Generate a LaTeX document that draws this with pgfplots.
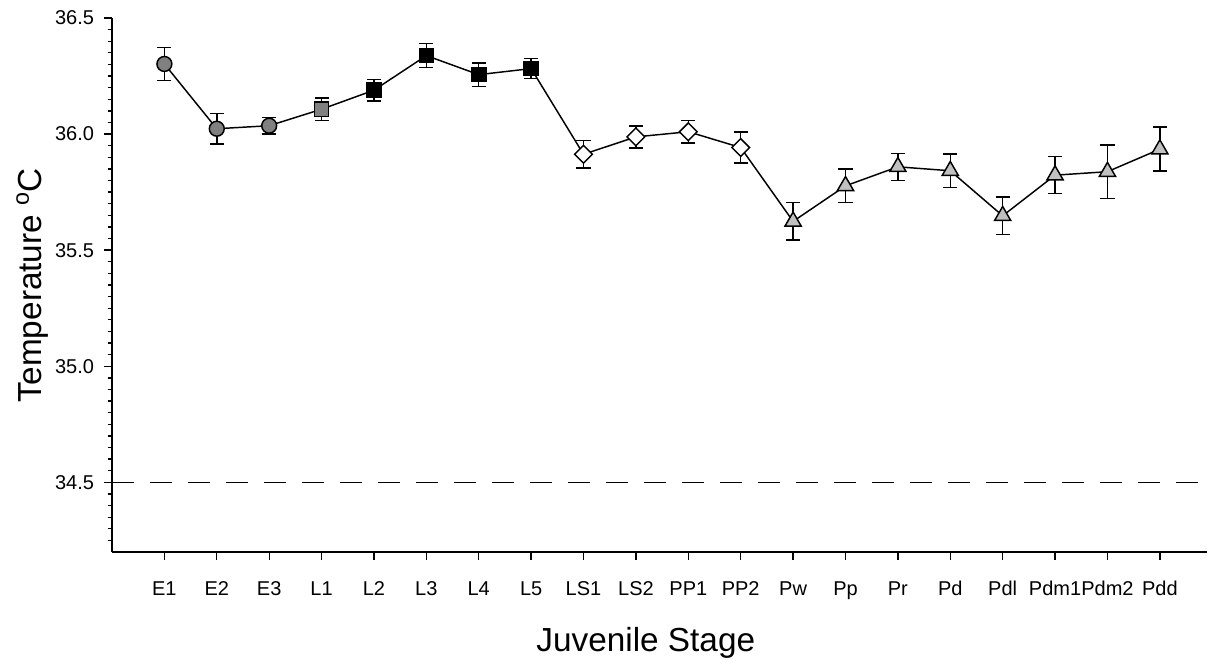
\documentclass[border=0pt]{standalone}
\usepackage{fontspec}
\setmainfont{Liberation Sans}
\usepackage{pgfplots}
\usepackage{pgfplotstable}
\pgfplotsset{compat=1.18}
\definecolor{midgray}{HTML}{808080}
\definecolor{ltgray}{HTML}{C0C0C0}

\pgfplotstableread{
x  y       e
0  36.302  0.071
1  36.023  0.066
2  36.036  0.036
3  36.107  0.048
4  36.189  0.047
5  36.338  0.051
6  36.256  0.051
7  36.282  0.043
8  35.913  0.059
9  35.988  0.047
10 36.010  0.048
11 35.942  0.066
12 35.624  0.081
13 35.777  0.072
14 35.859  0.058
15 35.842  0.072
16 35.648  0.081
17 35.823  0.080
18 35.838  0.115
19 35.935  0.095
}\data

\begin{document}
\begin{tikzpicture}
\useasboundingbox (-84pt,-85.5pt) rectangle (822.75pt,414pt);
\begin{axis}[
  scale only axis,
  width=821.25pt, height=400.5pt,
  at={(0pt,0pt)}, anchor=south west,
  xmin=-1, xmax=19.9, ymin=34.2, ymax=36.5,
  axis x line*=bottom, axis y line*=left,
  axis line style={line width=1.2pt, black},
  tick align=outside,
  major tick length=6pt, minor tick length=3pt,
  every tick/.style={black, line width=1pt},
  xtick={0,...,19},
  xticklabels={E1,E2,E3,L1,L2,L3,L4,L5,LS1,LS2,PP1,PP2,Pw,Pp,Pr,Pd,Pdl,Pdm1,Pdm2,Pdd},
  ytick={34.5,35,35.5,36,36.5},
  minor ytick={34.25,34.3,34.35,34.4,34.45,34.55,34.6,34.65,34.7,34.75,34.8,34.85,34.9,34.95,35.05,35.1,35.15,35.2,35.25,35.3,35.35,35.4,35.45,35.55,35.6,35.65,35.7,35.75,35.8,35.85,35.9,35.95,36.05,36.1,36.15,36.2,36.25,36.3,36.35,36.4,36.45},
  yticklabel style={xshift=-4pt, /pgf/number format/.cd, fixed, fixed zerofill, precision=1},
  /pgf/number format/assume math mode=true,
  tick label style={font=\fontsize{15}{17}\selectfont},
  xticklabel style={yshift=-12.5pt},
  xlabel={Juvenile Stage},
  ylabel={Temperature \textsuperscript{o}C},
  every axis x label/.style={at={(axis description cs:0.4875,-0.1865)}, anchor=base, font=\fontsize{25}{30}\selectfont},
  every axis y label/.style={at={(axis description cs:-0.0648,0.5)}, rotate=90, anchor=base, font=\fontsize{25}{30}\selectfont},
  clip=false,
]
\addplot[black, line width=0.9pt, dash pattern=on 16.5pt off 12pt] coordinates {(-1,34.5) (19.9,34.5)};
\addplot[black, line width=1.1pt, mark=none,
  error bars/.cd, y dir=both, y explicit,
  error bar style={line width=1.1pt, black},
  error mark options={rotate=90, mark size=5.3pt, line width=1.1pt, black}]
  table[x=x, y=y, y error=e] {\data};
\addplot[only marks, mark=*, mark size=5.6pt, mark options={fill=midgray, draw=black, line width=1.1pt}, restrict x to domain=0:2] table[x=x,y=y] {\data};
\addplot[only marks, mark=square*, mark size=5.3pt, mark options={fill=midgray, draw=black, line width=1.1pt}, restrict x to domain=3:3] table[x=x,y=y] {\data};
\addplot[only marks, mark=square*, mark size=5.3pt, mark options={fill=black, draw=black, line width=1.1pt}, restrict x to domain=4:7] table[x=x,y=y] {\data};
\addplot[only marks, mark=square*, mark size=4.7pt, mark options={fill=white, draw=black, line width=1.1pt, rotate=45}, restrict x to domain=8:11] table[x=x,y=y] {\data};
\addplot[only marks, mark=triangle*, mark size=7pt, mark options={fill=ltgray, draw=black, line width=1.1pt}, restrict x to domain=12:19] table[x=x,y=y] {\data};
\end{axis}
\end{tikzpicture}
\end{document}
